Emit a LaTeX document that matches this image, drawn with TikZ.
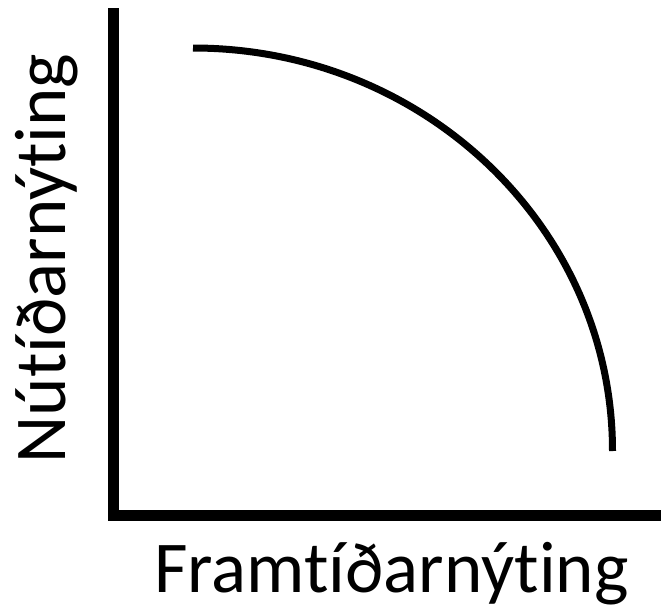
\documentclass[tikz,border=0pt]{standalone}
\usepackage{fontspec}
\setmainfont{Carlito}[Ligatures={NoCommon,NoRequired,NoContextual}]
\begin{document}
\begin{tikzpicture}[x=1pt,y=1pt,
  axis/.style={line width=11pt},
  curve/.style={line width=7pt},
  lbl/.style={inner sep=0pt, anchor=base, font=\fontsize{73}{80}\selectfont}]
\useasboundingbox (0,0) rectangle (661,-613);
\coordinate (top) at (113.5,-8);
\coordinate (right) at (661,-515.5);
\draw[axis] (top) -- (113.5,-521);
\draw[axis] (108,-515.5) -- (right);
\coordinate (cs) at (193,-48);
\draw[curve] (cs) arc[start angle=90, end angle=0, x radius=419.5, y radius=403] coordinate (ce);
\node[lbl] (xl) at (391.5,-592) {Framtíðarnýting};
\node[lbl, rotate=90] (yl) at (65,-258.5) {Nútíðarnýting};
\end{tikzpicture}
\end{document}
